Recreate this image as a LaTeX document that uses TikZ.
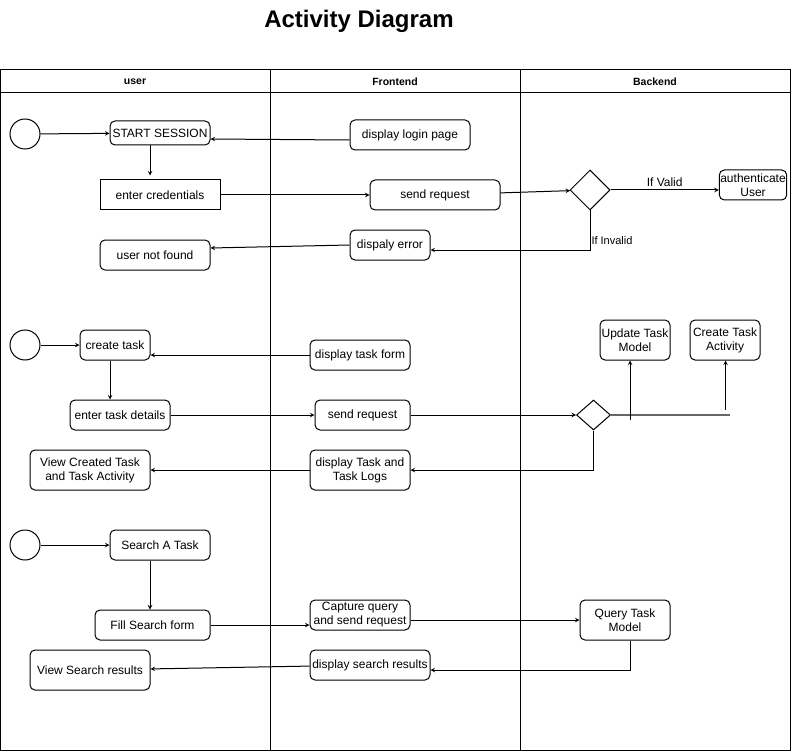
\documentclass[tikz,border=0pt]{standalone}
\usepackage{fontspec}
\setmainfont{Liberation Sans}
\usetikzlibrary{shapes.geometric}

\tikzstyle{initial} = [circle,draw=black,minimum size=30pt,inner sep=0pt]
\tikzstyle{action} = [rectangle,rounded corners=5pt,draw=black,align=center,inner sep=1pt,font=\fontsize{12}{14}\selectfont]
\tikzstyle{decision} = [diamond,draw=black,inner sep=0pt]
\tikzstyle{lanehead} = [font=\fontsize{10.5}{12}\selectfont\bfseries]
\tikzstyle{guard} = [font=\fontsize{12}{14}\selectfont]

\begin{document}
\begin{tikzpicture}[x=1pt,y=-1pt,>=stealth,line width=1pt]

	\useasboundingbox (0,0) rectangle (791,751);

	% title and swimlanes
	\node (title) at (359,21) {\fontsize{24}{28}\selectfont\bfseries Activity Diagram};
	\draw (0.5,70) rectangle (790.5,750);
	\draw (0.5,93) -- (790.5,93);
	\draw (270,70) -- (270,750);
	\draw (520,70) -- (520,750);
	\node (lane_user) [lanehead] at (135,81.5) {user};
	\node (lane_front) [lanehead] at (395,81.5) {Frontend};
	\node (lane_back) [lanehead] at (655,81.5) {Backend};

	% login
	\node (s1) [initial] at (25,134) {};
	\node (session) [action,minimum width=100pt,minimum height=24pt] at (160,133) {START SESSION};
	\node (cred) [action,sharp corners,minimum width=120pt,minimum height=30pt] at (160,195) {enter credentials};
	\node (notfound) [action,minimum width=110pt,minimum height=30pt] at (155,255) {user not found};
	\node (login) [action,minimum width=120pt,minimum height=30pt] at (410,135) {display login page};
	\node (req1) [action,minimum width=130pt,minimum height=30pt] at (435,195) {send request};
	\node (err) [action,minimum width=80pt,minimum height=30pt] at (390,245) {dispaly error};
	\node (valid) [decision,minimum width=40pt,minimum height=40pt] at (590,190) {};
	\node (auth) [action,minimum width=66pt,minimum height=30pt] at (753,185) {authenticate\\User};

	\path[->]
		(s1) edge (session)
		([xshift=-10pt]session.south) edge ([xshift=-10pt,yshift=4pt]cred.north)
		([yshift=-5pt]login.west) edge ([yshift=-6pt]session.east)
		(cred) edge (req1)
		(req1) edge (valid)
		(valid) edge node[guard,above] {If Valid} (auth.west |- valid)
		(err.west) edge ([yshift=7pt]notfound.east)
		;
	\draw[->] (valid.south) |- node[pos=0.38,anchor=west,inner sep=1pt,font=\fontsize{11}{13}\selectfont] {If Invalid} ([yshift=-5pt]err.east);

	% create task
	\node (s2) [initial] at (25,345) {};
	\node (create) [action,minimum width=70pt,minimum height=30pt] at (115,345) {create task};
	\node (details) [action,minimum width=100pt,minimum height=30pt] at (120,415) {enter task details};
	\node (viewtask) [action,minimum width=120pt,minimum height=40pt] at (90,470) {View Created Task\\and Task Activity};
	\node (taskform) [action,minimum width=100pt,minimum height=30pt] at (360,355) {display task form};
	\node (req2) [action,minimum width=95pt,minimum height=30pt] at (362.5,415) {send request};
	\node (tasklogs) [action,minimum width=100pt,minimum height=40pt] at (360,470) {display Task and\\Task Logs};
	\node (update) [decision,minimum width=34pt,minimum height=30pt] at (593.5,415) {};
	\node (updmodel) [action,minimum width=70pt,minimum height=40pt] at (635,340) {Update Task\\Model};
	\node (mkactivity) [action,minimum width=70pt,minimum height=40pt] at (725,340) {Create Task\\Activity};
	\coordinate (forkend) at (730,415);
	\coordinate (fork1) at (630,420);
	\coordinate (fork2) at (725.5,410);

	\draw[black!60,line width=1.3pt] (update.east) -- (forkend);
	\path[->]
		(s2) edge (create)
		([xshift=-5pt]create.south) edge ([xshift=-10pt]details.north)
		(taskform) edge (create.east |- taskform)
		(details) edge (req2)
		(req2) edge (update)
		(fork1) edge (fork1 |- updmodel.south)
		(fork2) edge (fork2 |- mkactivity.south)
		(tasklogs) edge (viewtask)
		;
	\draw[->] (update.south) |- (tasklogs);

	% search
	\node (s3) [initial] at (25,545) {};
	\node (search) [action,minimum width=100pt,minimum height=30pt] at (160,545) {Search A Task};
	\node (fillform) [action,minimum width=115pt,minimum height=30pt] at (152.5,625) {Fill Search form};
	\node (viewres) [action,minimum width=120pt,minimum height=40pt] at (90,670) {View Search results};
	\node (capture) [action,minimum width=100pt,minimum height=30pt] at (360,615) {Capture query\\and send request};
	\node (results) [action,minimum width=120pt,minimum height=30pt] at (370,665) {display search results};
	\node (query) [action,minimum width=90pt,minimum height=40pt] at (625,620) {Query Task\\Model};

	\path[->]
		(s3) edge (search)
		([xshift=-10pt]search.south) edge ([xshift=-10pt]search.south |- fillform.north)
		(fillform) edge (capture.west |- fillform)
		(capture.east |- query) edge (query)
		(results) edge (viewres)
		;
	\draw[->] ([xshift=5pt]query.south) |- ([yshift=-5pt]results.east);

\end{tikzpicture}
\end{document}
